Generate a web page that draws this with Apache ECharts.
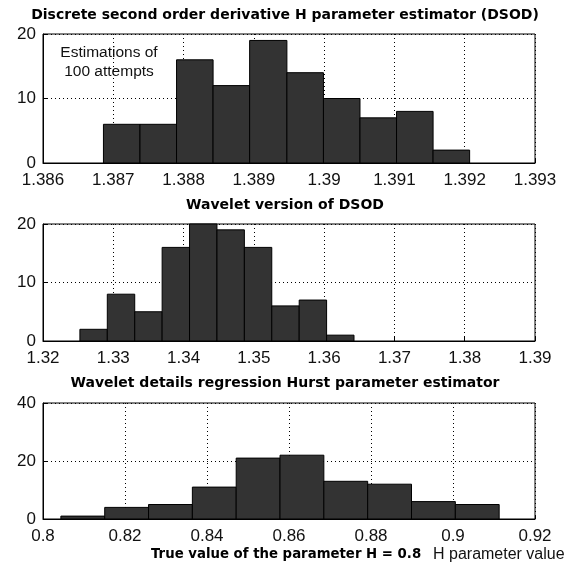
<!DOCTYPE html>
<html lang="en">
<head>
    <meta charset="UTF-8">
    <title>H parameter estimators</title>
    <style>
        body { margin: 0; background: #fff; }
    </style>
</head>
<body>
<div id="chart-box" style="height:566px;width:573px"></div>
<script src="https://cdn.jsdelivr.net/npm/echarts@6/dist/echarts.min.js"></script>
<script>
// histogram bin edges and counts
var dsodEdges = [1.38686, 1.38738, 1.38790, 1.38842, 1.38894, 1.38947, 1.38999, 1.39051, 1.39103, 1.39155, 1.39207];
var dsodCounts = [6, 6, 16, 12, 19, 14, 10, 7, 8, 2];

var waveEdges = [1.32525, 1.32915, 1.33305, 1.33695, 1.34085, 1.34475, 1.34865, 1.35255, 1.35645, 1.36035, 1.36425];
var waveCounts = [2, 8, 5, 16, 20, 19, 16, 6, 7, 1];

var hurstEdges = [0.80436, 0.81505, 0.82574, 0.83643, 0.84712, 0.85781, 0.86850, 0.87919, 0.88988, 0.90057, 0.91126];
var hurstCounts = [1, 4, 5, 11, 21, 22, 13, 12, 6, 5];

// axis ranges: [min, max, interval]
var xRanges = [[1.386, 1.393, 0.001], [1.32, 1.39, 0.01], [0.8, 0.92, 0.02]];
var yRanges = [[0, 20, 10], [0, 20, 10], [0, 40, 20]];

var titles = [
    'Discrete second order derivative H parameter estimator (DSOD)',
    'Wavelet version of DSOD',
    'Wavelet details regression Hurst parameter estimator'
];

var font = "'Liberation Sans', Arial, sans-serif";
var boldFont = "'DejaVu Sans', sans-serif";

function bins(edges, counts) {
    var out = [];
    for (var i = 0; i < counts.length; i++) {
        out.push([edges[i], edges[i + 1], counts[i]]);
    }
    return out;
}

function renderBin(params, api) {
    var p0 = api.coord([api.value(0), api.value(2)]);
    var p1 = api.coord([api.value(1), 0]);
    return {
        type: 'rect',
        shape: { x: p0[0], y: p0[1], width: p1[0] - p0[0], height: p1[1] - p0[1] },
        style: { fill: '#333333', stroke: '#000', lineWidth: 1 }
    };
}

var grids = [
    { left: 43, right: 38, top: 34, height: 129 },
    { left: 43, right: 38, top: 224, height: 117 },
    { left: 43, right: 38, top: 403, height: 116 }
];
grids.forEach(function (g) {
    g.show = true;
    g.backgroundColor = '#fff';
    g.borderColor = '#000';
    g.borderWidth = 1;
});

var dotted = { show: true, lineStyle: { color: '#000', type: [1, 3], width: 1 } };

var xAxes = xRanges.map(function (r, i) {
    return {
        type: 'value', gridIndex: i, min: r[0], max: r[1], interval: r[2],
        axisLine: { show: true, lineStyle: { color: '#000' } },
        axisTick: { show: true, inside: true, length: 4, lineStyle: { color: '#000' } },
        axisLabel: {
            color: '#111', fontSize: 17, fontFamily: font, margin: 9,
            formatter: function (v) { return String(+v.toFixed(4)); }
        },
        splitLine: dotted
    };
});

var yAxes = yRanges.map(function (r, i) {
    return {
        type: 'value', gridIndex: i, min: r[0], max: r[1], interval: r[2],
        axisLine: { show: true, lineStyle: { color: '#000' } },
        axisTick: { show: true, inside: true, length: 4, lineStyle: { color: '#000' } },
        axisLabel: { color: '#111', fontSize: 17, fontFamily: font, margin: 7 },
        splitLine: dotted
    };
});

var allBins = [bins(dsodEdges, dsodCounts), bins(waveEdges, waveCounts), bins(hurstEdges, hurstCounts)];
var series = allBins.map(function (d, i) {
    return {
        type: 'custom', xAxisIndex: i, yAxisIndex: i,
        renderItem: renderBin,
        encode: { x: [0, 1], y: 2 },
        data: d
    };
});

var titleY = [15, 205, 383];
var graphics = titles.map(function (t, i) {
    return {
        type: 'text', x: 285, y: titleY[i],
        style: { text: t, fill: '#000', font: 'bold 14px ' + boldFont, textAlign: 'center', textVerticalAlign: 'middle' }
    };
});
graphics.push({
    type: 'text', x: 109, y: 62,
    style: { text: 'Estimations of\n100 attempts', fill: '#111', font: '15.5px ' + font, lineHeight: 19,
        textAlign: 'center', textVerticalAlign: 'middle' }
});
graphics.push({
    type: 'text', x: 151, y: 555,
    style: { text: 'True value of the parameter H = 0.8', fill: '#000', font: 'bold 13.3px ' + boldFont,
        textAlign: 'left', textVerticalAlign: 'middle' }
});
graphics.push({
    type: 'text', x: 433, y: 555,
    style: { text: 'H parameter value', fill: '#111', font: '16px ' + font,
        textAlign: 'left', textVerticalAlign: 'middle' }
});

var option = {
    backgroundColor: '#fff',
    animation: false,
    grid: grids,
    xAxis: xAxes,
    yAxis: yAxes,
    series: series,
    graphic: graphics
};

var histChart = echarts.init(document.getElementById('chart-box'));
histChart.setOption(option);
</script>
</body>
</html>
